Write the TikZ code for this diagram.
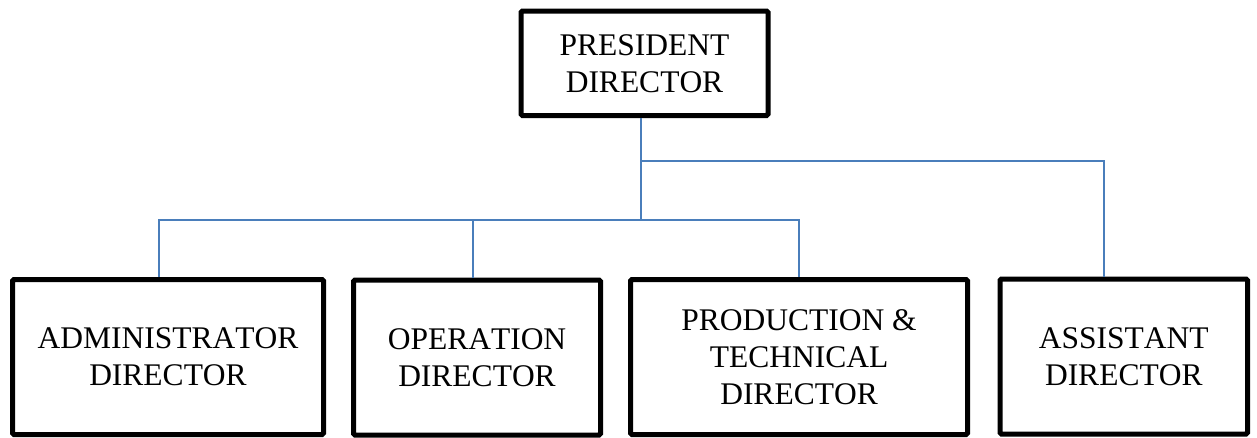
\documentclass[tikz,border=0pt]{standalone}
\usepackage{fontspec}
\setmainfont[Kerning=Off]{Liberation Serif}
\usetikzlibrary{positioning,calc}
\definecolor{azul}{RGB}{74,126,187}
\tikzset{
  director/.style={
    rectangle, draw, line width=5pt, rounded corners=1.5pt,
    align=center, inner sep=0pt, minimum height=155pt,
    font=\fontsize{31.5}{37}\selectfont},
  enlace/.style={draw=azul, line width=1.5pt}
}
\begin{document}
\begin{tikzpicture}[x=1pt, y=-1pt]
\useasboundingbox (0,0) rectangle (1257,437);

\node[director, minimum width=247pt, minimum height=104.5pt] (presidente) at (644.5,63.25) {PRESIDENT\\DIRECTOR};

% Fila inferior
\node[director, minimum width=311pt] (admin) at (168,357) {ADMINISTRATOR\\DIRECTOR};
\node[director, minimum width=247pt] (operacion) at (477,357.5) {OPERATION\\DIRECTOR};
\node[director, minimum width=337pt] (produccion) at (799,357) {PRODUCTION \&\\TECHNICAL\\DIRECTOR};
\node[director, minimum width=247.5pt] (asistente) at (1123.75,356.5) {ASSISTANT\\DIRECTOR};

\coordinate (rama) at (641,161);
\coordinate (barra) at (641,220);

\draw[enlace] ([xshift=-3.5pt]presidente.south) -- (barra);
\draw[enlace] (rama) -| ([xshift=-19.75pt]asistente.north);
\draw[enlace] ([xshift=-9pt]admin.north) |- (barra) -| (produccion.north);
\draw[enlace] ([xshift=-4pt]operacion.north) -- ([xshift=-4pt]operacion.north |- barra);

\end{tikzpicture}
\end{document}
